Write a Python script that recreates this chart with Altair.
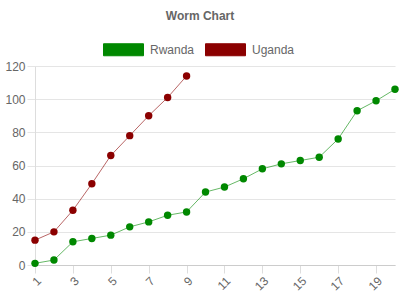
import altair as alt
import pandas as pd

days_rw = list(range(1, 21))
rwanda = [1, 3, 14, 16, 18, 23, 26, 30, 32, 44, 47, 52, 58, 61, 63, 65, 76, 93, 99, 106]
days_ug = list(range(1, 10))
uganda = [15, 20, 33, 49, 66, 78, 90, 101, 114]
series = ["Rwanda", "Uganda"]
colors = ["#008800", "#8b0000"]
x_ticks = [1, 3, 5, 7, 9, 11, 13, 15, 17, 19]
y_ticks = [0, 20, 40, 60, 80, 100, 120]

df = pd.concat([
    pd.DataFrame({"x": days_rw, "y": rwanda, "team": "Rwanda"}),
    pd.DataFrame({"x": days_ug, "y": uganda, "team": "Uganda"}),
])

font = "Liberation Sans"
color = alt.Color("team:N", scale=alt.Scale(domain=series, range=colors),
                  legend=alt.Legend(title=None, orient="none", legendX=68, legendY=-37,
                                    direction="horizontal",
                                    symbolType="M-1,-0.3H1V0.3H-1Z", symbolSize=1600,
                                    symbolStrokeWidth=1, symbolOpacity=1,
                                    labelFont=font, labelFontSize=12, labelColor="#666",
                                    labelOffset=6, columnPadding=8, padding=0))

x = alt.X("x:Q", scale=alt.Scale(domain=[1, 20], nice=False, zero=False),
          axis=alt.Axis(title=None, values=x_ticks, grid=False, labelAngle=-45,
                        tickSize=8, tickColor="#ddd", domainColor="#ccc",
                        labelFont=font, labelFontSize=12, labelColor="#666", labelPadding=2))
y = alt.Y("y:Q", scale=alt.Scale(domain=[0, 120], nice=False),
          axis=alt.Axis(title=None, values=y_ticks, gridColor="#e5e5e5", tickSize=8,
                        tickColor="#e5e5e5", domainColor="#ddd",
                        labelFont=font, labelFontSize=12, labelColor="#666", labelPadding=2))

base = alt.Chart(df)
lines = base.mark_line(strokeWidth=1, opacity=0.6).encode(x=x, y=y, color=color, detail="team:N")
points = base.mark_circle(size=55, opacity=1).encode(x=x, y=y, color=alt.Color("team:N", scale=alt.Scale(domain=series, range=colors), legend=None))

chart = (lines + points).properties(
    width=360, height=199,
    title=alt.TitleParams("Worm Chart", font=font, fontSize=12, fontWeight="bold", color="#666",
                          anchor="middle", offset=6, dx=-15),
    autosize=alt.AutoSizeParams(type="none"),
    padding={"left": 35, "top": 66, "right": 5, "bottom": 35},
).configure_view(stroke=None)

chart.save("out.html", embed_options={"renderer": "svg", "actions": False})
